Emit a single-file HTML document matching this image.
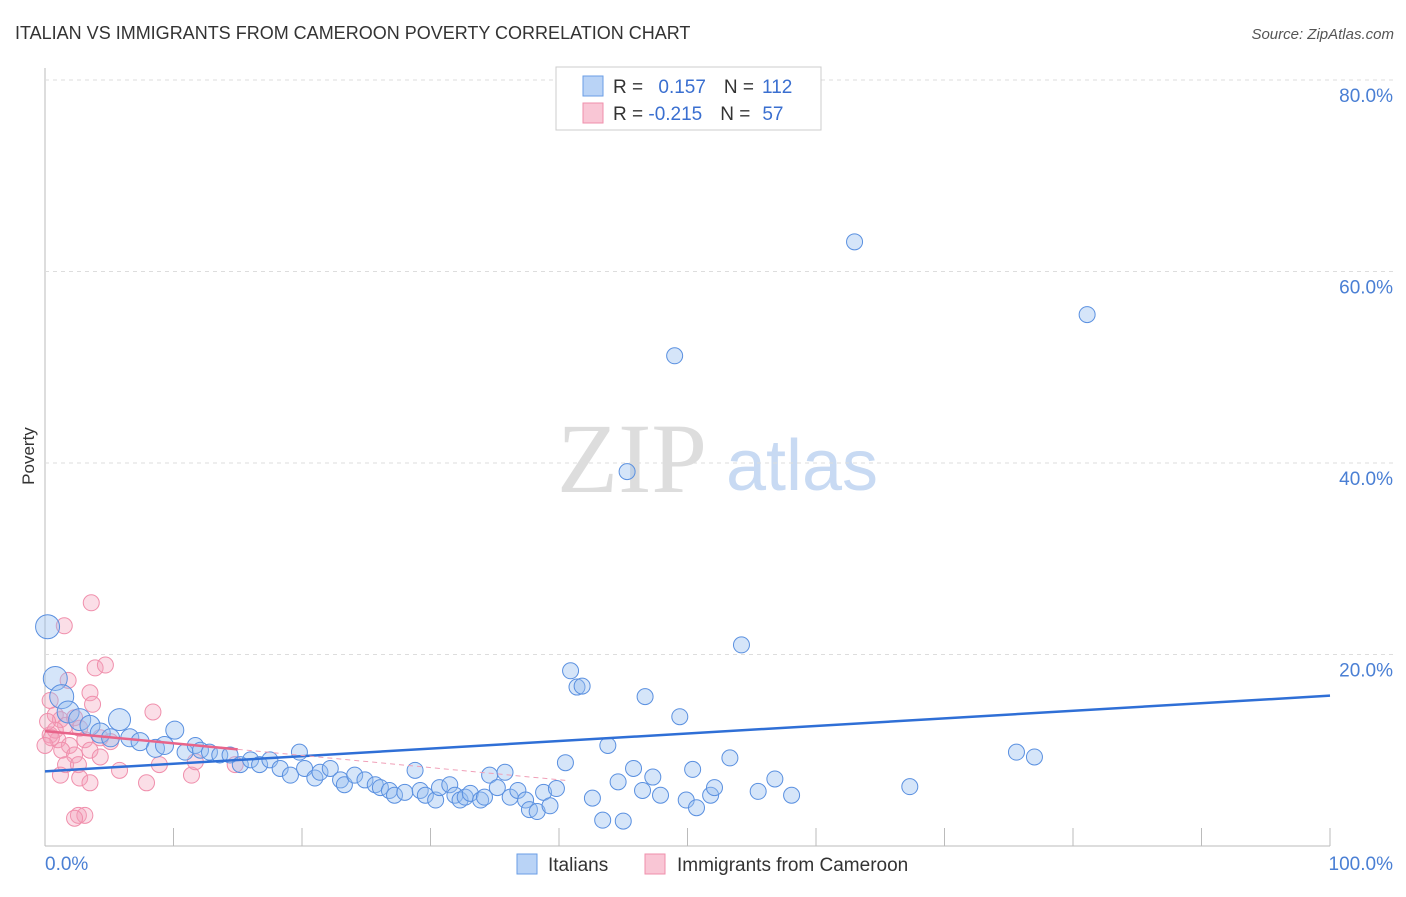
<!DOCTYPE html>
<html><head><meta charset="utf-8"><style>
body{margin:0;background:#fff;font-family:"Liberation Sans",sans-serif}
</style></head><body>
<svg width="1406" height="892" xmlns="http://www.w3.org/2000/svg" id="svg">
<text x="15" y="39" font-size="18" fill="#333">ITALIAN VS IMMIGRANTS FROM CAMEROON POVERTY CORRELATION CHART</text>
<text x="1394" y="39" font-size="15" fill="#555" text-anchor="end" font-style="italic">Source: ZipAtlas.com</text>
<text x="34" y="456" font-size="17" fill="#333" transform="rotate(-90 34 456)" text-anchor="middle">Poverty</text>
<text x="632" y="492" font-size="100" fill="#ddd" text-anchor="middle" font-family="Liberation Serif">ZIP</text>
<text x="802" y="490" font-size="72" fill="#c8daf3" text-anchor="middle">atlas</text>
<g id="grid"></g><g id="pts"></g><g id="lines"></g>
<g>
<rect x="556" y="67" width="265" height="63" fill="#fff" stroke="#ccc"/>
<rect x="583" y="76" width="20" height="20" fill="#b9d3f6" stroke="#6a9ee6"/>
<rect x="583" y="103" width="20" height="20" fill="#f9c6d5" stroke="#ef8fab"/>
<text x="613" y="93" font-size="19" fill="#333">R = <tspan fill="#3a6fd0" dx="10">0.157</tspan><tspan dx="18" fill="#333">N =</tspan><tspan dx="8" fill="#3a6fd0">112</tspan></text>
<text x="613" y="120" font-size="19" fill="#333">R = <tspan fill="#3a6fd0">-0.215</tspan><tspan dx="18" fill="#333">N =</tspan><tspan dx="12" fill="#3a6fd0">57</tspan></text>
</g>
<g>
<rect x="517" y="854" width="20" height="20" fill="#b9d3f6" stroke="#6a9ee6"/>
<text x="548" y="871" font-size="19" fill="#333">Italians</text>
<rect x="645" y="854" width="20" height="20" fill="#f9c6d5" stroke="#ef8fab"/>
<text x="677" y="871" font-size="19" fill="#333">Immigrants from Cameroon</text>
</g>
</svg>
<script>
const yTicks=[20,40,60,80];
const yTickLabels=["20.0%","40.0%","60.0%","80.0%"];
const xTicks=[0,10,20,30,40,50,60,70,80,90,100];
const blueX=[0.2,0.8,1.3,1.8,2.7,3.5,4.3,5.1,5.8,6.6,7.4,8.6,9.3,10.1,10.9,11.7,12.1,12.8,13.6,14.4,15.2,16.0,16.7,17.5,18.3,19.1,19.8,20.2,21.0,21.4,22.2,23.0,23.3,24.1,24.9,25.7,26.1,26.8,27.2,28.0,28.8,29.2,29.6,30.4,30.7,31.5,31.9,32.3,32.7,33.1,33.9,34.2,34.6,35.2,35.8,36.2,36.8,37.4,37.7,38.3,38.8,39.3,39.8,40.5,40.9,41.4,41.8,42.6,43.4,43.8,44.6,45.0,45.8,46.5,46.7,47.3,47.9,49.0,49.4,49.9,50.4,50.7,51.8,52.1,53.3,54.2,55.5,56.8,58.1,45.3,63.0,67.3,75.6,77.0,81.1];
const blueY=[22.9,17.5,15.6,14.0,13.2,12.6,11.8,11.3,13.2,11.3,10.9,10.2,10.5,12.1,9.8,10.5,10.0,9.8,9.5,9.5,8.5,9.0,8.5,9.0,8.1,7.4,9.8,8.1,7.1,7.7,8.1,6.9,6.4,7.4,6.9,6.4,6.1,5.8,5.3,5.6,7.9,5.8,5.3,4.8,6.1,6.4,5.3,4.8,5.1,5.5,4.8,5.1,7.4,6.1,7.7,5.1,5.8,4.8,3.8,3.6,5.6,4.2,6.0,8.7,18.3,16.6,16.7,5.0,2.7,10.5,6.7,2.6,8.1,5.8,15.6,7.2,5.3,51.2,13.5,4.8,8.0,4.0,5.3,6.1,9.2,21.0,5.7,7.0,5.3,39.1,63.1,6.2,9.8,9.3,55.5];
const blueR=[12,12,12,11,11,10,10,9,11,9,9,9,9,9,8,8,8,8,8,8,8,8,8,8,8,8,8,8,8,8,8,8,8,8,8,8,8,8,8,8,8,8,8,8,8,8,8,8,8,8,8,8,8,8,8,8,8,8,8,8,8,8,8,8,8,8,8,8,8,8,8,8,8,8,8,8,8,8,8,8,8,8,8,8,8,8,8,8,8,8,8,8,8,8,8];
const pinkX=[3.6,1.5,3.9,4.7,1.8,3.5,3.7,8.4,0.4,0.8,1.2,1.6,0.4,1.0,1.9,0.8,2.3,2.7,3.1,4.3,5.1,1.3,2.3,3.5,4.3,1.6,2.6,5.8,1.2,2.7,3.5,7.9,8.9,11.4,11.7,14.8,2.6,3.1,2.3,0.2,0.5,0.0];
const pinkY=[25.4,23.0,18.6,18.9,17.3,16.0,14.8,14.0,15.2,13.7,13.2,12.6,11.6,11.1,10.5,12.1,13.4,12.3,11.1,11.3,10.9,10.0,9.5,10.0,9.3,8.5,8.5,7.9,7.4,7.1,6.6,6.6,8.5,7.4,8.8,8.5,3.2,3.2,2.9,13.0,11.3,10.5];
const blueTrend=[7.8,15.7];
const pinkTrend=[12.0,-0.7];
const X=v=>45+v*12.85, Y=v=>846-v*9.575;
const NS="http://www.w3.org/2000/svg";
function mk(tag,attrs,parent){const e=document.createElementNS(NS,tag);for(const k in attrs)e.setAttribute(k,attrs[k]);document.getElementById(parent).appendChild(e);return e;}
let ax=mk('line',{x1:45,y1:68,x2:45,y2:846,stroke:'#bbb'},'grid');


let bx=mk('line',{x1:45,y1:846,x2:1330,y2:846,stroke:'#bbb'},'grid');


yTicks.forEach((t,i)=>{
 let g=mk('line',{x1:45,x2:1395,y1:Y(t),y2:Y(t),stroke:'#ddd','stroke-dasharray':'4,4'},'grid');
 
 
 let l=mk('text',{x:1393,y:Y(t)+22,'font-size':19,fill:'#4a7fd4','text-anchor':'end'},'grid');l.textContent=yTickLabels[i];
 
 
});
xTicks.forEach(t=>{
 let k=mk('line',{x1:X(t),x2:X(t),y1:828,y2:846,stroke:'#bbb'},'grid');
 
 
});
[["0.0%",45,'start'],["100.0%",1393,'end']].forEach(a=>{
 let l=mk('text',{x:a[1],y:870,'font-size':19,fill:'#4a7fd4','text-anchor':a[2]},'grid');l.textContent=a[0];
 
 
});
pinkX.forEach((x,i)=>{
 let c=mk('circle',{cx:X(x),cy:Y(pinkY[i]),r:8,fill:'rgba(244,160,185,0.35)',stroke:'#f08fac','stroke-width':1},'pts');
 
 
});
blueX.forEach((x,i)=>{
 let c=mk('circle',{cx:X(x),cy:Y(blueY[i]),r:blueR[i],fill:'rgba(150,190,240,0.4)',stroke:'#5a90e0','stroke-width':1},'pts');
 
 
});
let bl=mk('line',{x1:X(0),y1:Y(blueTrend[0]),x2:X(100),y2:Y(blueTrend[1]),stroke:'#2f6fd6','stroke-width':2.5},'lines');


const pAt=x=>pinkTrend[0]+(pinkTrend[1]-pinkTrend[0])*x/100;
let ps=mk('line',{x1:X(0),y1:Y(pAt(0)),x2:X(15),y2:Y(pAt(15)),stroke:'#e8648a','stroke-width':2.5},'lines');


let pd=mk('line',{x1:X(15),y1:Y(pAt(15)),x2:X(40.5),y2:Y(pAt(40.5)),stroke:'#f0a0b8','stroke-width':1,'stroke-dasharray':'5,4'},'lines');


</script>
</body></html>
